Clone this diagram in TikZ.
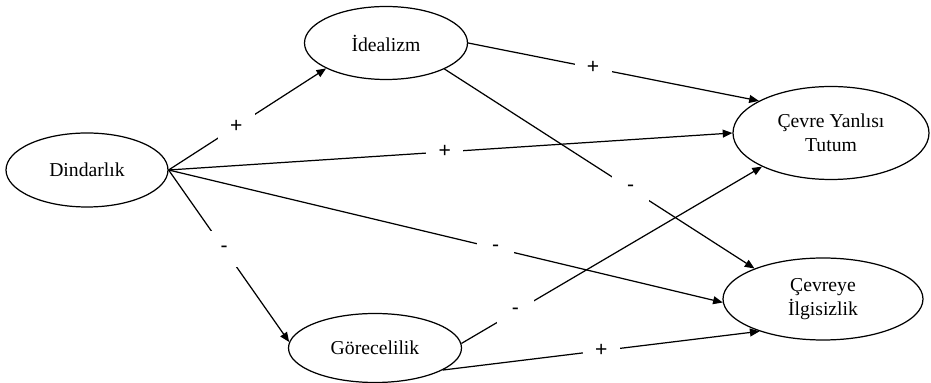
\documentclass[tikz,border=0pt]{standalone}
\usepackage{fontspec}
\setmainfont{Liberation Serif}
\newfontfamily\signfont{Liberation Sans}
\usetikzlibrary{shapes}
\usetikzlibrary{arrows.meta}
\usetikzlibrary{positioning}

\begin{document}
\begin{tikzpicture}
  [on grid,
   var/.style = {ellipse, draw, inner sep=0pt, align=center,
                 font=\fontsize{11.2}{13.6}\selectfont},
   sign/.style = {fill=white, inner sep=0pt, minimum width=0.74cm,
                  minimum height=0.72cm, font=\signfont\fontsize{12}{14}\selectfont},
   every path/.style = {->, >={Triangle[length=5.5pt, width=4.5pt]}, line width=0.7pt}]
  \useasboundingbox (0,0) rectangle (18.62,-7.66);

  \node (din) [var, minimum width=3.24cm, minimum height=1.48cm] at (1.74,-3.4) {Dindarlık};
  \node (ide) [var, minimum width=3.26cm, minimum height=1.46cm, above right=2.54cm and 5.98cm of din] {İdealizm};
  \node (gor) [var, minimum width=3.46cm, minimum height=1.38cm, below right=3.56cm and 5.76cm of din] {Görecelilik};
  \node (cyt) [var, minimum width=3.92cm, minimum height=1.86cm, below right=1.8cm and 8.9cm of ide] {Çevre Yanlısı\\Tutum};
  \node (cil) [var, minimum width=4cm, minimum height=1.64cm, above right=0.98cm and 8.96cm of gor] {Çevreye\\İlgisizlik};

  % from Dindarlik
  \draw (din.east) to node [sign, pos=0.43] {+} (ide.203);
  \draw (din.east) to node [sign, pos=0.46] {-} (gor.176);
  \draw (din.east) to node [sign, pos=0.49] {+} (cyt.west);
  \draw (din.east) to node [sign, pos=0.59] {-} (cil.182);

  % from Idealizm and Gorecelilik
  \draw (ide.east) to node [sign, pos=0.43] {+} (cyt.156);
  \draw (ide.336) to node [sign, pos=0.6] {-} (cil.156);
  \draw (gor.3) to node [sign, pos=0.18] {-} (cyt.206);
  \draw (gor.342) to node [sign, pos=0.5] {+} (cil.207);
\end{tikzpicture}
\end{document}
